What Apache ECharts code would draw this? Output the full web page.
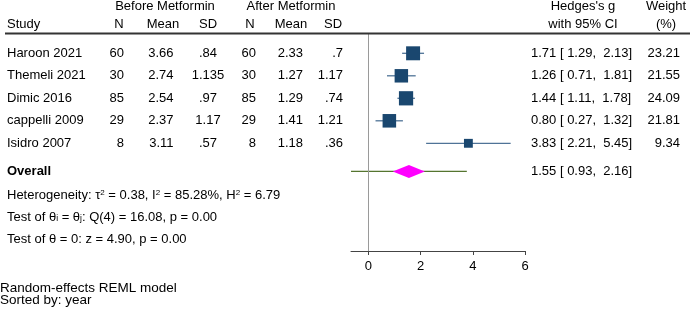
<!DOCTYPE html>
<html>
<head>
<meta charset="utf-8">
<script src="https://cdn.jsdelivr.net/npm/echarts@6/dist/echarts.min.js"></script>
<style>
  html, body { margin: 0; padding: 0; background: #fff; }
  #main { width: 693px; height: 309px; }
</style>
</head>
<body>
<div id="main"></div>
<script>
// ---- data ----
const studies = ["Haroon 2021", "Themeli 2021", "Dimic 2016", "cappelli 2009", "Isidro 2007"];
const nBefore = [60, 30, 85, 29, 8];
const meanBefore = [3.66, 2.74, 2.54, 2.37, 3.11];
const sdBefore = [0.84, 1.135, 0.97, 1.17, 0.57];
const nAfter = [60, 30, 85, 29, 8];
const meanAfter = [2.33, 1.27, 1.29, 1.41, 1.18];
const sdAfter = [0.7, 1.17, 0.74, 1.21, 0.36];
const hedgesG = [1.71, 1.26, 1.44, 0.80, 3.83];
const ciLow = [1.29, 0.71, 1.11, 0.27, 2.21];
const ciHigh = [2.13, 1.81, 1.78, 1.32, 5.45];
const weights = [23.21, 21.55, 24.09, 21.81, 9.34];
const overall = [1.55, 0.93, 2.16]; // estimate, low, high
const predInt = [-0.67, 3.77];
const hetero = { tau2: 0.38, i2: 85.28, h2: 6.79 };
const qTest = { df: 4, q: 16.08, p: 0.00 };
const zTest = { z: 4.90, p: 0.00 };
const xTicks = [0, 2, 4, 6];

// ---- layout ----
const W = 693, H = 309;
const FONT = '"Liberation Sans", Arial, sans-serif';
const rowTop = 53.3, rowStep = 22.5;   // pixel centre of first study row, row spacing
const plotTop = 33, plotBottom = 251;
const rowOf = px => (px - rowTop) / rowStep;
const col = { study: 7, nB: 124, meanB: 173.5, sdB: 208, nA: 256, meanA: 303, sdA: 343,
              ci: 531, wt: 680, gHead: 583, wHead: 666 };
const navy = "#1a476f";

const fmtSD = v => String(v).replace(/^0\./, ".");
const fmtCI = (e, l, h) => e.toFixed(2) + " [ " + l.toFixed(2) + ",  " + h.toFixed(2) + "]";

// ---- text table ----
const texts = [];
function put(x, px, text, align, extra) {
  texts.push(Object.assign({ x: x, row: rowOf(px), text: text, align: align }, extra || {}));
}
put(165, 6.5, "Before Metformin", "center");
put(291, 6.5, "After Metformin", "center");
put(col.gHead, 6.5, "Hedges's g", "center");
put(col.wHead, 6.5, "Weight", "center");
put(col.study, 24.3, "Study", "left");
put(119, 24.3, "N", "center");
put(163, 24.3, "Mean", "center");
put(208, 24.3, "SD", "center");
put(250, 24.3, "N", "center");
put(291, 24.3, "Mean", "center");
put(333, 24.3, "SD", "center");
put(col.gHead, 24.3, "with 95% CI", "center");
put(col.wHead, 24.3, "(%)", "center");

studies.forEach((s, i) => {
  const py = rowTop + rowStep * i;
  put(col.study, py, s, "left");
  put(col.nB, py, String(nBefore[i]), "right");
  put(col.meanB, py, meanBefore[i].toFixed(2), "right");
  put(col.sdB, py, fmtSD(sdBefore[i]), "center");
  put(col.nA, py, String(nAfter[i]), "right");
  put(col.meanA, py, meanAfter[i].toFixed(2), "right");
  put(col.sdA, py, fmtSD(sdAfter[i]), "right");
  put(col.ci, py, fmtCI(hedgesG[i], ciLow[i], ciHigh[i]), "left");
  put(col.wt, py, weights[i].toFixed(2), "right");
});

const overallPx = 171.4;
put(col.study, overallPx, "Overall", "left", { bold: true });
put(col.ci, overallPx, fmtCI(overall[0], overall[1], overall[2]), "left");
put(col.study, 195, "Heterogeneity: \u03c4{s|2} = " + hetero.tau2.toFixed(2) + ", I{s|2} = " +
    hetero.i2.toFixed(2) + "%, H{s|2} = " + hetero.h2.toFixed(2), "left", { rich: true });
put(col.study, 217, "Test of \u03b8{b|i} = \u03b8{b|j}: Q(" + qTest.df + ") = " + qTest.q.toFixed(2) +
    ", p = " + qTest.p.toFixed(2), "left", { rich: true });
put(col.study, 239, "Test of \u03b8 = 0: z = " + zTest.z.toFixed(2) + ", p = " + zTest.p.toFixed(2), "left");
put(0, 288.5, "Random-effects REML model", "left", { size: 13.5 });
put(0, 300.5, "Sorted by: year", "left", { size: 13.5 });

const chart = echarts.init(document.getElementById("main"));

chart.setOption({
  animation: false,
  backgroundColor: "#fff",
  grid: [
    { left: 351, right: W - 525, top: plotTop, bottom: H - plotBottom, outerBoundsMode: "none" },
    { left: 0, right: 0, top: 0, bottom: 0, outerBoundsMode: "none" }
  ],
  xAxis: [
    {
      type: "value", gridIndex: 0, min: predInt[0], max: 6,
      axisLine: { show: true, onZero: false, lineStyle: { color: "#444", width: 1 } },
      axisTick: { show: true, customValues: xTicks, length: 4, lineStyle: { color: "#444" } },
      axisLabel: { customValues: xTicks, fontSize: 13, fontFamily: FONT, color: "#000", margin: 9 },
      splitLine: { show: false }
    },
    { type: "value", gridIndex: 1, min: 0, max: W, show: false }
  ],
  yAxis: [
    { type: "value", gridIndex: 0, inverse: true, min: rowOf(plotTop), max: rowOf(plotBottom), show: false },
    { type: "value", gridIndex: 1, inverse: true, min: rowOf(0), max: rowOf(H), show: false }
  ],
  graphic: [
    { type: "line", shape: { x1: 5, y1: 33.5, x2: 690, y2: 33.5 }, style: { stroke: "#333", lineWidth: 2 }, z: 10 }
  ],
  series: [
    {
      // zero reference line
      type: "line", xAxisIndex: 0, yAxisIndex: 0, data: [],
      markLine: {
        silent: true, symbol: ["none", "none"], label: { show: false },
        lineStyle: { color: "#9a9a9a", width: 1, type: "solid" },
        data: [{ xAxis: 0 }]
      }
    },
    {
      // overall: prediction interval + diamond
      type: "custom", xAxisIndex: 0, yAxisIndex: 0, z: 3,
      data: [[overall[0], rowOf(overallPx), overall[1], overall[2], predInt[0], predInt[1]]],
      renderItem: function (params, api) {
        const r = api.value(1);
        const c = api.coord([api.value(0), r]);
        const l = api.coord([api.value(2), r]);
        const h = api.coord([api.value(3), r]);
        const pl = api.coord([api.value(4), r]);
        const ph = api.coord([api.value(5), r]);
        const hh = 6.5;
        return {
          type: "group",
          children: [
            { type: "line", shape: { x1: pl[0], y1: pl[1], x2: ph[0], y2: ph[1] },
              style: { stroke: "#55752f", lineWidth: 1.2 } },
            { type: "polygon", shape: { points: [[l[0], l[1]], [c[0], c[1] - hh], [h[0], h[1]], [c[0], c[1] + hh]] },
              style: { fill: "#ff00ff" } }
          ]
        };
      }
    },
    {
      // study CIs and weighted squares
      type: "custom", xAxisIndex: 0, yAxisIndex: 0, z: 3,
      data: studies.map((s, i) => [hedgesG[i], i, ciLow[i], ciHigh[i], weights[i]]),
      renderItem: function (params, api) {
        const r = api.value(1);
        const c = api.coord([api.value(0), r]);
        const l = api.coord([api.value(2), r]);
        const h = api.coord([api.value(3), r]);
        const side = 2.9 * Math.sqrt(api.value(4));
        return {
          type: "group",
          children: [
            { type: "line", shape: { x1: l[0], y1: l[1], x2: h[0], y2: h[1] },
              style: { stroke: "#4f7397", lineWidth: 1.3 } },
            { type: "rect", shape: { x: c[0] - side / 2, y: c[1] - side / 2, width: side, height: side },
              style: { fill: navy } }
          ]
        };
      }
    },
    {
      // text table
      type: "custom", xAxisIndex: 1, yAxisIndex: 1, z: 5,
      data: texts.map(t => [t.x, t.row]),
      renderItem: function (params, api) {
        const t = texts[params.dataIndex];
        const p = api.coord([api.value(0), api.value(1)]);
        const size = t.size || 13;
        const style = {
          text: t.text,
          font: (t.bold ? "bold " : "") + size + "px " + FONT,
          fill: "#000",
          textAlign: t.align,
          textVerticalAlign: "middle"
        };
        if (t.rich) {
          style.rich = {
            s: { fontSize: 8, fontFamily: FONT, fill: "#000", verticalAlign: "top" },
            b: { fontSize: 8.5, fontFamily: FONT, fill: "#000", verticalAlign: "bottom" }
          };
        }
        return { type: "text", x: p[0], y: p[1], style: style };
      }
    }
  ]
});
</script>
</body>
</html>
